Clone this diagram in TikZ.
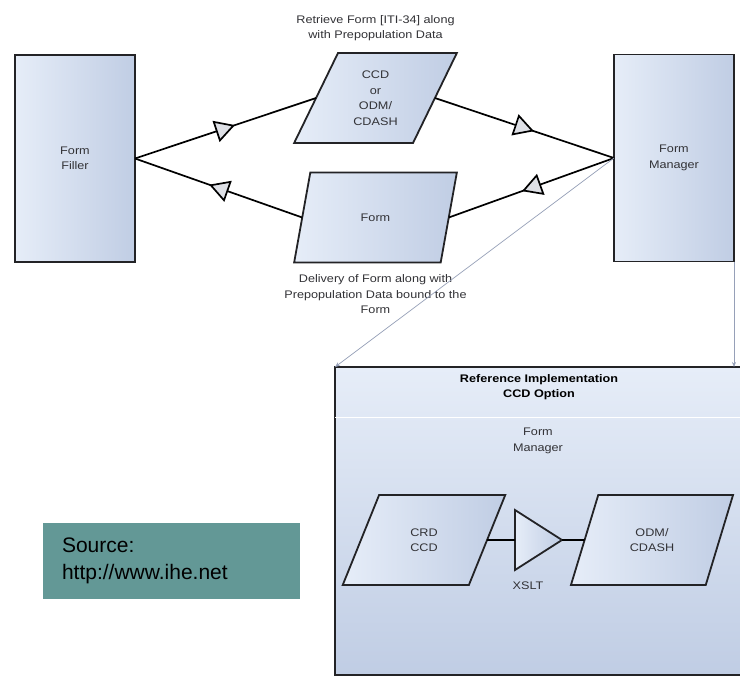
\documentclass[tikz,border=0pt]{standalone}
\usepackage{fontspec}
\setmainfont{Liberation Sans}
\newfontfamily\diagfont[FakeStretch=1.15]{Liberation Sans}
\usetikzlibrary{shapes.geometric,arrows.meta,positioning,decorations.markings}
\usepackage{xcolor}
\definecolor{boxlight}{RGB}{230,237,248}
\definecolor{boxdark}{RGB}{192,205,228}
\definecolor{frameline}{RGB}{35,35,38}
\definecolor{linkgrey}{RGB}{150,160,184}
\definecolor{tipfill}{RGB}{222,224,230}
\definecolor{sourceteal}{RGB}{99,152,150}
\definecolor{labeltext}{RGB}{50,50,54}
\newcommand{\labelfont}{\diagfont\fontsize{11}{15.5}\selectfont}
\newcommand{\dataform}[2]{%
  \node[trapezium, trapezium left angle=64.5, trapezium right angle=115.5,
        trapezium stretches=true, minimum width=163pt, minimum height=90pt,
        draw=frameline, line width=1.8pt, left color=boxlight, right color=boxdark,
        inner sep=0pt, outer sep=0pt, align=center, font=\labelfont,
        text=labeltext, #2] (#1) }

\begin{document}
\begin{tikzpicture}[x=1pt, y=-1pt,
  actor/.style={rectangle, draw=frameline, line width=1.8pt,
    left color=boxlight, right color=boxdark, outer sep=0pt,
    minimum width=120pt, minimum height=207pt, align=center,
    font=\labelfont, text=labeltext},
  flow/.style={draw=black, line width=1.7pt, postaction={decorate},
    decoration={markings, mark=at position 0.5 with
      {\arrow[xshift=10pt]{Triangle[fill=tipfill, length=20pt, width=22pt]}}}},
  plain/.style={draw=black, line width=1.7pt},
  link/.style={draw=linkgrey, line width=0.7pt, -{Stealth[length=5pt,width=4pt]}},
  note/.style={font=\labelfont, text=labeltext, align=center, inner sep=0pt}]

\useasboundingbox[fill=white] (0,0) rectangle (740,678);

\node[actor] (FormFiller) at (75,158.5) {Form\\Filler};
\node[actor] (FormManager) at (674,158) {Form\\Manager};

\dataform{RetrieveData}{} at (375.5,98) {CCD\\or\\ODM/\\CDASH};
\dataform{DeliverForm}{} at (375.5,217.5) {Form};

\node[note, above=12pt of RetrieveData] (RetrieveLabel)
  {Retrieve Form [ITI-34] along\\with Prepopulation Data};
\node[note, below=12pt of DeliverForm] (DeliverLabel)
  {Delivery of Form along with\\Prepopulation Data bound to the\\Form};

\draw[flow] (FormFiller.east) -- (RetrieveData.west);
\draw[flow] (RetrieveData.east) -- (FormManager.west);
\draw[flow] (FormManager.west) -- (DeliverForm.east);
\draw[flow] (DeliverForm.west) -- (FormFiller.east);

\node[rectangle, draw=frameline, line width=1.8pt, top color=boxlight,
      bottom color=boxdark, minimum width=408pt, minimum height=308pt,
      outer sep=0pt] (RefImpl) at (539,521) {};
\draw[white, line width=0.8pt] ([yshift=-50pt]RefImpl.north west)
  -- ([yshift=-50pt]RefImpl.north east);

\node[note, font=\labelfont\bfseries, text=black] (RefTitle) at (539,387)
  {Reference Implementation\\CCD Option};
\node[note] (InnerManager) at (538,441) {Form\\Manager};

\dataform{CrdCcd}{} at (424,540) {CRD\\CCD};
\dataform{OdmCdash}{} at (652,540) {ODM/\\CDASH};

\node[isosceles triangle, isosceles triangle stretches=true,
      minimum width=60pt, minimum height=47pt, inner sep=0pt, outer sep=0pt,
      draw=frameline, line width=1.8pt, left color=boxlight,
      right color=boxdark, anchor=west] (Xslt) at (515,540) {};
\node[note] (XsltLabel) at (528,586) {XSLT};

\draw[plain] (CrdCcd.east) -- (Xslt.west);
\draw[plain] (Xslt.east) -- (OdmCdash.west);

\draw[link] (FormManager.west) -- (RefImpl.north west);
\draw[link] (FormManager.south east) -- (FormManager.south east |- RefImpl.north);

\node[fill=sourceteal, minimum width=257pt, minimum height=76pt,
      text width=219pt, inner xsep=19pt, align=left,
      font=\fontsize{21}{27}\selectfont] (SourceNote) at (171.5,561)
  {Source:\\http://www.ihe.net};

\end{tikzpicture}
\end{document}
